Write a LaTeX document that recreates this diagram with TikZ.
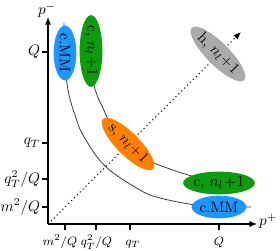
\documentclass[tikz,border=0pt]{standalone}
\usetikzlibrary{arrows.meta,shapes.geometric}
\definecolor{cblue}{RGB}{30,150,255}
\definecolor{cgreen}{RGB}{15,155,15}
\definecolor{corange}{RGB}{255,128,0}
\definecolor{cgray}{RGB}{170,170,170}
\begin{document}
\begin{tikzpicture}[x=0.66pt,y=-0.66pt,
  blob/.style={ellipse,minimum width=34pt,minimum height=15pt,inner sep=0pt},
  curve/.style={line width=0.5pt,black!80},
  axisline/.style={line width=0.8pt,-{Latex[length=5pt,width=4pt]}},
  tickmark/.style={line width=0.8pt},
  ylab/.style={anchor=east,inner sep=1pt},
  xlab/.style={anchor=base,inner sep=0pt,font=\fontsize{8.5}{10}\selectfont},
  ]
\useasboundingbox (0,0) rectangle (280,251);
% coordinates
\coordinate (O) at (48,224);
\coordinate (ytop) at (48,17);
\coordinate (xend) at (257,224);
\coordinate (dend) at (241,32);
% curves
\draw[curve] plot[smooth,tension=0.6] coordinates {(64,23) (65,53) (66,75) (69,95) (75,115) (83,135) (105,166) (140,190) (160,198) (195,205) (219,207) (251,207)};
\draw[curve] plot[smooth,tension=0.6] coordinates {(89,23) (91,51) (93,80) (97,95) (103,108) (110,122) (128,144) (148,160) (170,169) (195,177) (219,183) (251,183)};
% diagonal
\draw[dotted,line width=0.7pt,-{Latex[length=5pt,width=4pt]}] (O) -- (dend);
% axes
\draw[axisline] (O) -- (ytop);
\draw[axisline] (O) -- (xend);
\node[inner sep=0pt] (pm) at (47,10) {$p^-$};
\node[inner sep=0pt] (pp) at (268,221) {$p^+$};
% y ticks
\draw[tickmark] (42,52) -- (48,52);
\draw[tickmark] (42,143) -- (48,143);
\draw[tickmark] (42,179) -- (48,179);
\draw[tickmark] (42,207) -- (48,207);
\node[ylab] (yQ) at (42,52) {$Q$};
\node[ylab] (yqt) at (42,143) {$q_T$};
\node[ylab] (yqq) at (42,179) {$q_T^2/Q$};
\node[ylab] (ym) at (42,207) {$m^2/Q$};
% x ticks
\draw[tickmark] (65,224) -- (65,230);
\draw[tickmark] (96,224) -- (96,230);
\draw[tickmark] (130,224) -- (130,230);
\draw[tickmark] (219,224) -- (219,230);
\node[xlab] (xm) at (60,245) {$m^2/Q$};
\node[xlab] (xqq) at (96.5,245) {$q_T^2/Q$};
\node[xlab] (xqt) at (133,245) {$q_T$};
\node[xlab] (xQ) at (219,245) {$Q$};
% ellipses
\node[blob,fill=cblue,rotate=-90] (cmmtop) at (65,53) {c.MM};
\node[blob,fill=cgreen,rotate=-90] (cnltop) at (91,51) {c, $n_l\!+\!1$};
\node[blob,fill=corange,rotate=-45] (snl) at (128,144) {s, $n_l\!+\!1$};
\node[blob,fill=cgray,rotate=-45] (hnl) at (218,54) {h, $n_l\!+\!1$};
\node[blob,fill=cgreen] (cnlright) at (219,183) {c, $n_l\!+\!1$};
\node[blob,fill=cblue] (cmmright) at (219,207) {c.MM};
\end{tikzpicture}
\end{document}
